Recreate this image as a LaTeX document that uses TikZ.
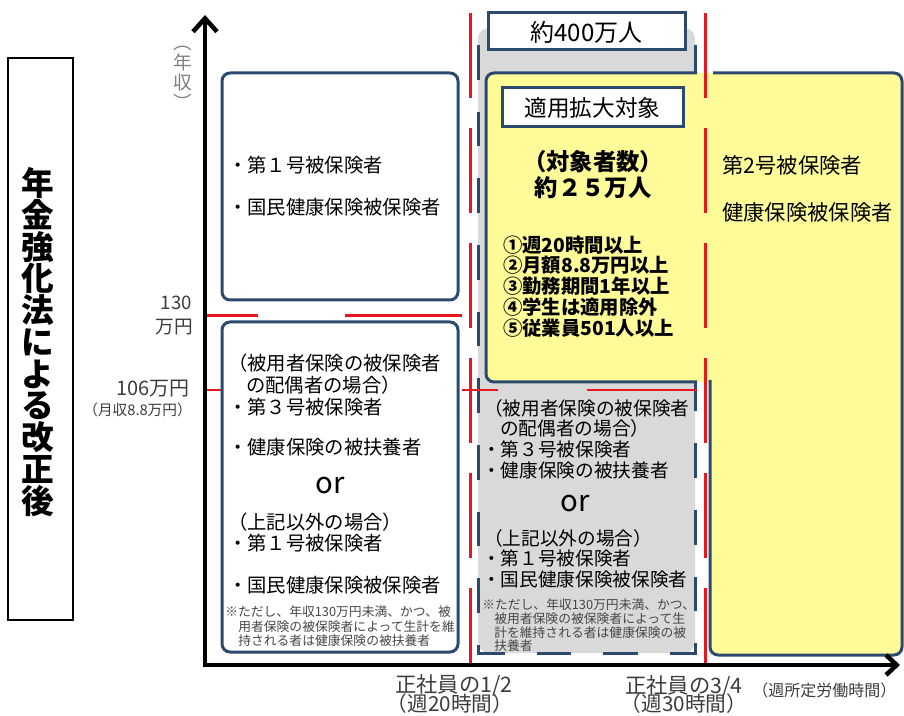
\documentclass[tikz,border=0pt]{standalone}
\usepackage{fontspec}
\setmainfont{Noto Sans CJK JP}
\usetikzlibrary{arrows.meta}
\definecolor{navy}{RGB}{44,74,112}
\definecolor{redl}{RGB}{232,22,30}
\definecolor{ylw}{RGB}{255,251,153}
\definecolor{gry}{RGB}{217,217,217}
\definecolor{axtx}{RGB}{60,60,60}
\definecolor{notetx}{RGB}{70,70,70}
\newcommand\fsz[1]{\fontsize{#1}{#1}\selectfont}
\tikzset{
  box/.style={draw=navy, line width=2.25pt, fill=white, rounded corners=6pt},
  nbox/.style={draw=navy, line width=2.25pt, fill=white},
  redv/.style={draw=redl, line width=2.25pt, dash pattern=on 63.75pt off 22.5pt},
  redh/.style={draw=redl, line width=1.8pt},
  bdash/.style={draw=navy, line width=2.25pt, dash pattern=on 26pt off 24pt},
  tx/.style={anchor=west, inner sep=0pt, font=\fsz{14.5pt}},
  gtx/.style={anchor=west, inner sep=0pt, font=\fsz{14pt}},
  note/.style={anchor=west, inner sep=0pt, font=\fsz{9.6pt}, text=notetx},
  lst/.style={anchor=west, inner sep=0pt, font=\fsz{14.5pt}\bfseries},
  axl/.style={inner sep=0pt, text=axtx},
  ortx/.style={inner sep=0pt, font=\fsz{22pt}},
}
\begin{document}
\begin{tikzpicture}[x=0.75pt, y=-0.75pt]
\useasboundingbox (0,0) rectangle (904,716);

% title box
\draw[black, line width=1.1pt] (8,58) rectangle (73,620);
\node[inner sep=0pt, align=center, font=\fontsize{24.5pt}{23.8pt}\selectfont\bfseries] (title) at (38,342)
  {年\\金\\強\\化\\法\\に\\よ\\る\\改\\正\\後};

% gray region
\fill[gry, rounded corners=8pt] (478,28) rectangle (695,653);
\draw[bdash] (478,45) -- (478,653) -- (695,653) -- (695,45);

% red horizontal lines
\draw[redh] (205,390) -- (260,390);
\draw[redh] (462,390) -- (498,390);
\draw[redh] (587,390) -- (697,390);
\draw[redl, line width=2.25pt] (205,316) -- (258,316);
\draw[redl, line width=2.25pt] (345,316) -- (462,316);

% left boxes
\draw[box] (222,73) rectangle (458,300);
\draw[box] (222,322) rectangle (458,652);

% yellow region
\fill[ylw, rounded corners=6pt] (486,382) -- (486,73) -- (902,73) -- (902,655) -- (710,655) -- (710,382) -- cycle;
\draw[navy, line width=2.25pt, rounded corners=6pt] (697,73) -- (486,73) -- (486,382) -- (697,382);
\draw[navy, line width=2.25pt, rounded corners=6pt] (713,73) -- (902,73) -- (902,655) -- (710,655) -- (710,380);

% label boxes
\draw[nbox] (488,13) rectangle (685,50);
\node[inner sep=0pt, font=\fsz{18pt}] (n400) at (586.5,32) {約400万人};
\draw[nbox] (502,88) rectangle (683,127);
\node[inner sep=0pt, font=\fsz{17pt}] (tekiyo) at (592.5,108) {適用拡大対象};

% red vertical dashed lines
\draw[redv] (470,13) -- (470,665);
\draw[redv] (705,13) -- (705,665);

% axes
\draw[line width=3.4pt, {Straight Barb[length=10pt,width=18pt]}-{Straight Barb[length=8pt,width=15pt]}] (205,15) -- (205,665) -- (900,665);

% axis labels
\node[inner sep=0pt, align=center, text=gray, font=\fontsize{14pt}{15pt}\selectfont] (nenshu) at (183,78) {︵\\年\\収\\︶};
\node[axl, anchor=east, font=\fsz{14pt}] (l130) at (192,303) {130};
\node[axl, anchor=east, font=\fsz{14pt}] (l130b) at (193,327) {万円};
\node[axl, anchor=east, font=\fsz{15pt}] (l106) at (190,389) {106万円};
\node[axl, anchor=east, font=\fsz{11pt}] (l106b) at (192,410) {（月収8.8万円）};
\node[axl, font=\fsz{16pt}] (half) at (454,685) {正社員の1/2};
\node[axl, font=\fsz{15.5pt}] (halfb) at (450,704) {（週20時間）};
\node[axl, font=\fsz{16pt}] (tq) at (684,686) {正社員の3/4};
\node[axl, font=\fsz{15.5pt}] (tqb) at (684,704) {（週30時間）};
\node[axl, anchor=west, font=\fsz{12pt}] (shotei) at (752,690) {（週所定労働時間）};

% top-left box text
\node[tx] (tl1) at (228,165) {・第１号被保険者};
\node[tx] (tl2) at (228,207) {・国民健康保険被保険者};

% bottom-left box text
\node[tx] (bl1) at (228,363) {（被用者保険の被保険者};
\node[tx] (bl2) at (246,385) {の配偶者の場合）};
\node[tx] (bl3) at (228,407) {・第３号被保険者};
\node[tx] (bl4) at (228,447) {・健康保険の被扶養者};
\node[ortx] (blor) at (330,486) {or};
\node[tx] (bl5) at (228,522) {（上記以外の場合）};
\node[tx] (bl6) at (228,543) {・第１号被保険者};
\node[tx] (bl7) at (228,585) {・国民健康保険被保険者};
\node[note] (bln1) at (225,612) {※ただし、年収130万円未満、かつ、被};
\node[note] (bln2) at (238,627) {用者保険の被保険者によって生計を維};
\node[note] (bln3) at (238,641) {持される者は健康保険の被扶養者};

% gray region text
\node[gtx] (g1) at (484,408) {（被用者保険の被保険者};
\node[gtx] (g2) at (500,428) {の配偶者の場合）};
\node[gtx] (g3) at (482,449) {・第３号被保険者};
\node[gtx] (g4) at (482,470) {・健康保険の被扶養者};
\node[ortx] (gor) at (575,504) {or};
\node[gtx] (g5) at (484,538) {（上記以外の場合）};
\node[gtx] (g6) at (482,558) {・第１号被保険者};
\node[gtx] (g7) at (482,579) {・国民健康保険被保険者};
\node[note] (gn1) at (482,605) {※ただし、年収130万円未満、かつ、};
\node[note] (gn2) at (494,619) {被用者保険の被保険者によって生};
\node[note] (gn3) at (494,633) {計を維持される者は健康保険の被};
\node[note] (gn4) at (494,646) {扶養者};

% yellow box text
\node[inner sep=0pt, font=\fsz{17.5pt}\bfseries] (taisho) at (593,162) {（対象者数）};
\node[inner sep=0pt, font=\fsz{17.5pt}\bfseries] (ninzu) at (593,188) {約２５万人};
\node[lst] (c1) at (503,245) {①週20時間以上};
\node[lst] (c2) at (503,265) {②月額8.8万円以上};
\node[lst] (c3) at (503,286) {③勤務期間1年以上};
\node[lst] (c4) at (503,307) {④学生は適用除外};
\node[lst] (c5) at (503,328) {⑤従業員501人以上};
\node[anchor=west, inner sep=0pt, font=\fsz{16pt}] (r1) at (722,165) {第2号被保険者};
\node[anchor=west, inner sep=0pt, font=\fsz{16pt}] (r2) at (722,212) {健康保険被保険者};
\end{tikzpicture}
\end{document}
